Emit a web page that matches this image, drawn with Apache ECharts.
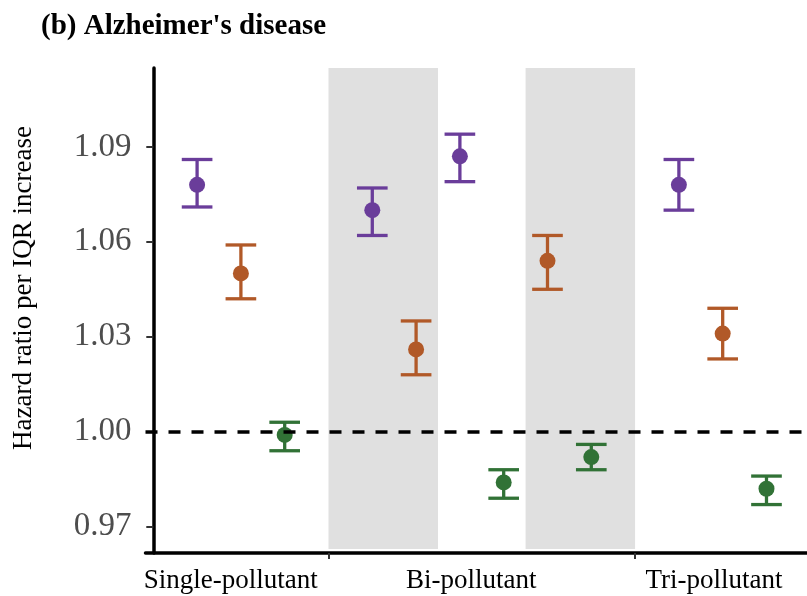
<!DOCTYPE html>
<html>
<head>
<meta charset="utf-8">
<script src="https://cdn.jsdelivr.net/npm/echarts@6/dist/echarts.min.js"></script>
<style>html,body{margin:0;padding:0;background:#fff}#c{width:807px;height:596px}</style>
</head>
<body>
<div id="c"></div>
<script>
// x positions of each estimate (continuous position scale)
const positions = [1, 2, 3, 5, 6, 7, 8, 9, 10, 12, 13, 14];
const seriesColorKey = ['P','O','G','P','O','P','G','O','G','P','O','G'];
const estimates = [1.078, 1.050, 0.999, 1.070, 1.026, 1.087, 0.984, 1.054, 0.992, 1.078, 1.031, 0.982];
const lowerCI   = [1.071, 1.042, 0.994, 1.062, 1.018, 1.079, 0.979, 1.045, 0.988, 1.070, 1.023, 0.977];
const upperCI   = [1.086, 1.059, 1.003, 1.077, 1.035, 1.094, 0.988, 1.062, 0.996, 1.086, 1.039, 0.986];
const groupLabels = ['Single-pollutant', 'Bi-pollutant', 'Tri-pollutant'];
const groupLabelPos = [1.77, 7.26, 12.8];
const groupBreaks = [4, 11];
const shadedBands = [[4, 6.5], [8.5, 11]];
const yTicks = [0.97, 1.00, 1.03, 1.06, 1.09];

const colors = { P: '#6A3D9A', O: '#B15928', G: '#317236' };

const pts = positions.map((p, i) => ({
  value: [p, estimates[i], lowerCI[i], upperCI[i]],
  itemStyle: { color: colors[seriesColorKey[i]], opacity: 1 }
}));

const chart = echarts.init(document.getElementById('c'), null, { renderer: 'canvas' });
const serif = 'Liberation Serif, Times New Roman, serif';

chart.setOption({
  animation: false,
  title: {
    text: "(b) Alzheimer's disease",
    left: 36, top: 7,
    textStyle: { fontFamily: serif, fontWeight: 'bold', fontSize: 29, color: '#000' }
  },
  graphic: [{
    type: 'text', x: 24, y: 288, rotation: Math.PI / 2,
    style: { text: 'Hazard ratio per IQR increase', fontFamily: serif, fontSize: 27,
             fill: '#000', align: 'center', verticalAlign: 'middle' }
  }],
  grid: { left: 145.5, right: 0, top: 68, bottom: 43, containLabel: false },
  xAxis: {
    type: 'value', min: -0.178, max: 14.925,
    splitLine: { show: false },
    axisLine: { lineStyle: { color: '#000', width: 3.5 } },
    axisTick: { show: true, customValues: groupBreaks, length: 6, lineStyle: { color: '#333', width: 2 } },
    axisLabel: {
      customValues: groupLabelPos, margin: 14,
      fontFamily: serif, fontSize: 27, color: '#000',
      formatter: v => { const k = groupLabelPos.findIndex(p => Math.abs(p - v) < 1e-6); return k >= 0 ? groupLabels[k] : ''; }
    }
  },
  yAxis: {
    type: 'value', min: 0.9617, max: 1.1149,
    splitLine: { show: false },
    axisLine: { show: true, lineStyle: { color: '#000', width: 3.5 } },
    axisTick: { show: true, customValues: yTicks, length: 7, lineStyle: { color: '#333', width: 2 } },
    axisLabel: {
      customValues: yTicks, margin: 14,
      fontFamily: serif, fontSize: 33, color: '#4D4D4D',
      formatter: v => v.toFixed(2)
    }
  },
  series: [
    {
      type: 'custom', name: 'ci', clip: false, z: 2,
      data: pts,
      renderItem: (params, api) => {
        const x = api.value(0), lo = api.value(2), hi = api.value(3);
        const col = api.visual('color');
        const a = api.coord([x, lo]), b = api.coord([x, hi]);
        const l1 = api.coord([x - 0.35, lo]), r1 = api.coord([x + 0.35, lo]);
        const l2 = api.coord([x - 0.35, hi]), r2 = api.coord([x + 0.35, hi]);
        const st = { stroke: col, lineWidth: 3.3 };
        return { type: 'group', children: [
          { type: 'line', shape: { x1: a[0], y1: a[1], x2: b[0], y2: b[1] }, style: st },
          { type: 'line', shape: { x1: l1[0], y1: l1[1], x2: r1[0], y2: r1[1] }, style: st },
          { type: 'line', shape: { x1: l2[0], y1: l2[1], x2: r2[0], y2: r2[1] }, style: st }
        ]};
      },
      encode: { x: 0, y: 1 },
      markArea: {
        silent: true,
        itemStyle: { color: '#E0E0E0' },
        data: shadedBands.map(b => [{ xAxis: b[0], yAxis: 0.963 }, { xAxis: b[1], yAxis: 1.1167 }])
      }
    },
    {
      type: 'scatter', name: 'est', z: 3,
      symbol: 'circle', symbolSize: 16,
      itemStyle: { opacity: 1 },
      data: pts.map(d => ({ value: [d.value[0], d.value[1]], itemStyle: d.itemStyle })),
      markLine: {
        silent: true, symbol: 'none', z: 4,
        label: { show: false },
        lineStyle: { color: '#000', width: 3.5, type: [12, 11], opacity: 1 },
        data: [{ yAxis: 1.0 }]
      }
    }
  ]
});
</script>
</body>
</html>
